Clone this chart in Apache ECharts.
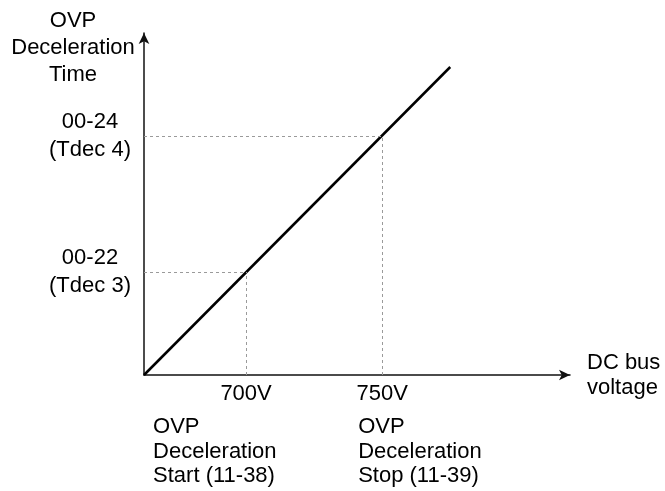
<!DOCTYPE html>
<html><head><meta charset="utf-8">
<script src="https://cdn.jsdelivr.net/npm/echarts@6/dist/echarts.min.js"></script>
<style>html,body{margin:0;padding:0;background:#fff}#c{width:665px;height:491px}</style>
</head><body><div id="c"></div>
<script>
// Data
const xRange = [662.5, 819];          // DC bus voltage axis (V)
const yRange = [0, 342];              // deceleration time (relative units)
const lineX = [662.5, 775];           // OVP deceleration characteristic
const lineY = [0, 308];
const voltTicks = [700, 750];
const voltTickLabels = ['700V', '750V'];
const timeTicks = [103, 239];
const timeTickLabels = ['00-22\n(Tdec 3)', '00-24\n(Tdec 4)'];
const voltNotes = ['OVP\nDeceleration\nStart (11-38)', 'OVP\nDeceleration\nStop (11-39)'];
const xName = 'DC bus\nvoltage';
const yName = 'OVP\nDeceleration\nTime';

const FONT = "'Liberation Sans', Arial, sans-serif";
const FS = 22;
const chart = echarts.init(document.getElementById('c'), null, {renderer: 'canvas'});

const lineData = lineX.map((x, i) => [x, lineY[i]]);
const guideLines = [];
for (let i = 0; i < voltTicks.length; i++) {
  guideLines.push([{coord: [xRange[0], timeTicks[i]]}, {coord: [voltTicks[i], timeTicks[i]]}]);
  guideLines.push([{coord: [voltTicks[i], 0]}, {coord: [voltTicks[i], timeTicks[i]]}]);
}

chart.setOption({
  animation: false,
  backgroundColor: '#fff',
  grid: {left: 144, right: 95, top: 33, bottom: 116},
  xAxis: {
    type: 'value', min: xRange[0], max: xRange[1],
    name: xName, nameLocation: 'end', nameGap: 17,
    nameTextStyle: {fontFamily: FONT, fontSize: FS, color: '#000', align: 'left', verticalAlign: 'middle', lineHeight: 25, padding: [0, 0, 12, 0]},
    axisLine: {show: true, onZero: false, lineStyle: {color: '#111', width: 1.5}, symbol: ['none', 'arrow'], symbolSize: [8, 11]},
    axisTick: {show: false},
    splitLine: {show: false},
    axisLabel: {
      customValues: voltTicks, margin: 8,
      fontFamily: FONT, fontSize: FS, color: '#000',
      formatter: v => voltTickLabels[voltTicks.indexOf(v)] || ''
    }
  },
  yAxis: {
    type: 'value', min: yRange[0], max: yRange[1],
    name: yName, nameLocation: 'end', nameGap: 26,
    nameTextStyle: {fontFamily: FONT, fontSize: FS, color: '#000', align: 'center', verticalAlign: 'top', lineHeight: 27, padding: [0, 142, 0, 0]},
    axisLine: {show: true, onZero: false, lineStyle: {color: '#111', width: 1.5}, symbol: ['none', 'arrow'], symbolSize: [8, 11]},
    axisTick: {show: false},
    splitLine: {show: false},
    axisLabel: {
      customValues: timeTicks, margin: 54, align: 'center',
      fontFamily: FONT, fontSize: FS, color: '#000', lineHeight: 28,
      padding: [13, 0, 0, 0],
      formatter: v => timeTickLabels[timeTicks.indexOf(v)] || ''
    }
  },
  series: [{
    type: 'line', data: lineData, showSymbol: false, silent: true,
    lineStyle: {color: '#000', width: 2.5},
    markLine: {
      silent: true, symbol: ['none', 'none'],
      lineStyle: {color: '#9a9a9a', width: 1, type: [3, 3]},
      label: {show: false},
      data: guideLines
    }
  }]
});

function placeNotes() {
  const offs = [-93, -24];
  const g = voltTicks.map((v, i) => {
    const p = chart.convertToPixel({gridIndex: 0}, [v, 0]);
    return {
      type: 'text', left: p[0] + offs[i], top: p[1] + 40,
      style: {text: voltNotes[i], font: FS + 'px ' + FONT, fill: '#000', lineHeight: 24.5}
    };
  });
  chart.setOption({graphic: g});
}
placeNotes();
</script></body></html>
